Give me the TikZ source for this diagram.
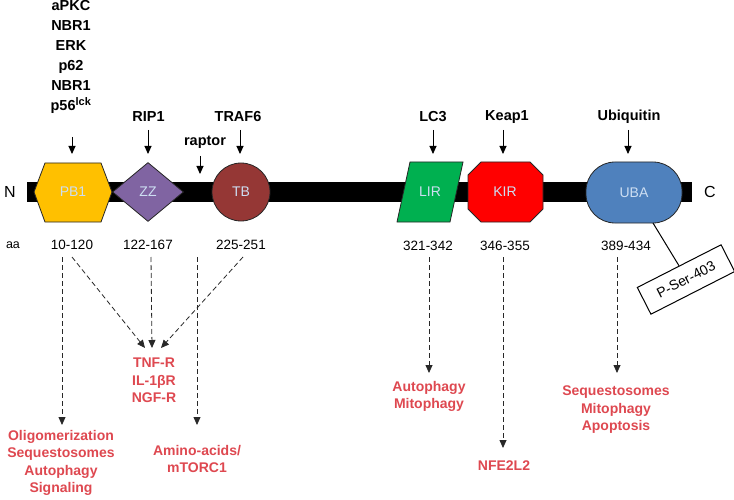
\documentclass[tikz,border=0pt]{standalone}
\usepackage{fontspec}
\setmainfont{Liberation Sans}
\usetikzlibrary{arrows.meta,shapes.geometric}
\definecolor{pbcol}{RGB}{255,192,0}
\definecolor{zzcol}{RGB}{128,100,162}
\definecolor{tbcol}{RGB}{149,55,53}
\definecolor{lircol}{RGB}{0,176,80}
\definecolor{kircol}{RGB}{255,0,0}
\definecolor{ubacol}{RGB}{79,129,189}
\definecolor{domtxt}{RGB}{205,222,242}
\definecolor{redtxt}{RGB}{222,72,80}
\definecolor{dashcol}{RGB}{40,40,40}
\begin{document}
\begin{tikzpicture}[x=1pt,y=-1pt,
 dom/.style={draw=black!85, line width=0.8pt},
 domlabel/.style={text=domtxt, font=\fontsize{14}{16}\selectfont, inner sep=0pt},
 toplab/.style={font=\bfseries\fontsize{14.5}{20}\selectfont, align=center, inner sep=1pt},
 aalab/.style={font=\fontsize{13.5}{16}\selectfont, inner sep=1pt},
 redlab/.style={text=redtxt, font=\bfseries\fontsize{14}{17.5}\selectfont, align=center, inner sep=1pt},
 solidarr/.style={-{Triangle[length=8pt,width=7pt]}, line width=0.9pt},
 dasharr/.style={-{Triangle[length=8pt,width=7pt]}, dash pattern=on 5pt off 3pt, line width=0.8pt, draw=dashcol},
]
\useasboundingbox (0,0) rectangle (734,500);
% backbone
\fill[black] (27,182) rectangle (692,202);
\node[font=\fontsize{16}{18}\selectfont] (nterm) at (10,192) {N};
\node[font=\fontsize{16}{18}\selectfont] (cterm) at (710,192) {C};
% domains
\path[dom, fill=pbcol] (34,192) -- (45,163) -- (101,163) -- (112,192) -- (101,222) -- (45,222) -- cycle;
\node[domlabel] (pb1) at (73,192) {PB1};
\node[dom, fill=zzcol, diamond, minimum width=71pt, minimum height=59pt, inner sep=0pt, domlabel] (zz) at (148,192) {ZZ};
\node[dom, fill=tbcol, circle, minimum size=58pt, inner sep=0pt, domlabel] (tb) at (241,192) {TB};
\path[dom, fill=lircol] (410,162) -- (463,162) -- (450,222) -- (397,222) -- cycle;
\node[domlabel] (lir) at (430,192) {LIR};
\path[dom, fill=kircol] (468,175) -- (481,162) -- (530,162) -- (543,175) -- (543,209) -- (530,222) -- (481,222) -- (468,209) -- cycle;
\node[domlabel] (kir) at (505,192) {KIR};
\node[dom, fill=ubacol, rectangle, rounded corners=29pt, minimum width=96pt, minimum height=61pt, inner sep=0pt, domlabel] (uba) at (634,192.5) {UBA};
% top labels
\node[toplab] (pb1lab) at (71,57) {aPKC\\NBR1\\ERK\\p62\\NBR1\\p56\textsuperscript{\fontsize{11}{12}\selectfont lck}};
\node[toplab] (riplab) at (148.5,117) {RIP1};
\node[toplab] (raplab) at (205,142) {raptor};
\node[toplab] (traflab) at (238,117) {TRAF6};
\node[toplab] (lclab) at (433,117) {LC3};
\node[toplab] (keaplab) at (507,117) {Keap1};
\node[toplab] (ubqlab) at (629,117) {Ubiquitin};
% top arrows
\coordinate (pbS) at (72,137); \coordinate (pbE) at (72,154);
\coordinate (ripS) at (148,130); \coordinate (ripE) at (148,154);
\coordinate (rapS) at (200,156); \coordinate (rapE) at (200,174);
\coordinate (trS) at (240,130); \coordinate (trE) at (240,154);
\coordinate (lcS) at (433,130); \coordinate (lcE) at (433,154);
\coordinate (keS) at (503,130); \coordinate (keE) at (503,154);
\coordinate (ubS) at (628,130); \coordinate (ubE) at (628,154);
\draw[solidarr] (pbS) -- (pbE);
\draw[solidarr] (ripS) -- (ripE);
\draw[solidarr] (rapS) -- (rapE);
\draw[solidarr] (trS) -- (trE);
\draw[solidarr] (lcS) -- (lcE);
\draw[solidarr] (keS) -- (keE);
\draw[solidarr] (ubS) -- (ubE);
% residue ranges
\node[aalab, font=\fontsize{12.5}{14}\selectfont] (aa) at (13,245) {aa};
\node[aalab] (r1) at (72,245) {10-120};
\node[aalab] (r2) at (148,245) {122-167};
\node[aalab] (r3) at (241,245) {225-251};
\node[aalab] (r4) at (428,246) {321-342};
\node[aalab] (r5) at (505,246) {346-355};
\node[aalab] (r6) at (626,246) {389-434};
% P-Ser-403
\node[draw, line width=1pt, rotate=27, minimum width=94pt, minimum height=30pt, inner sep=0pt, font=\fontsize{14}{16}\selectfont] (pser) at (686,279.5) {P-Ser-403};
\coordinate (ubaB) at (653,223);
\draw[line width=1pt] (ubaB) -- (pser.north);
% red labels
\node[redlab] (tnf) at (154,380.5) {TNF-R\\IL-1βR\\NGF-R};
\node[redlab] (olig) at (61,463) {Oligomerization\\Sequestosomes\\Autophagy\\Signaling};
\node[redlab] (amino) at (197,459) {Amino-acids/\\mTORC1};
\node[redlab] (auto) at (429,396.5) {Autophagy\\Mitophagy};
\node[redlab] (nfe) at (504,466) {NFE2L2};
\node[redlab] (seq) at (616,410) {Sequestosomes\\Mitophagy\\Apoptosis};
% dashed arrows
\coordinate (d1S) at (62,257); \coordinate (d1E) at (62,425);
\coordinate (d2S) at (72,257); \coordinate (d2E) at (145,348);
\coordinate (d3S) at (151,257); \coordinate (d3E) at (152,348);
\coordinate (d4S) at (243,257); \coordinate (d4E) at (161,348);
\coordinate (d5S) at (197,257); \coordinate (d5E) at (197,425);
\coordinate (d6S) at (429,257); \coordinate (d6E) at (429,373);
\coordinate (d7S) at (503,257); \coordinate (d7E) at (503,448);
\coordinate (d8S) at (617,257); \coordinate (d8E) at (617,373);
\draw[dasharr] (d1S) -- (d1E);
\draw[dasharr] (d2S) -- (d2E);
\draw[dasharr] (d3S) -- (d3E);
\draw[dasharr] (d4S) -- (d4E);
\draw[dasharr] (d5S) -- (d5E);
\draw[dasharr] (d6S) -- (d6E);
\draw[dasharr] (d7S) -- (d7E);
\draw[dasharr] (d8S) -- (d8E);
\end{tikzpicture}
\end{document}
